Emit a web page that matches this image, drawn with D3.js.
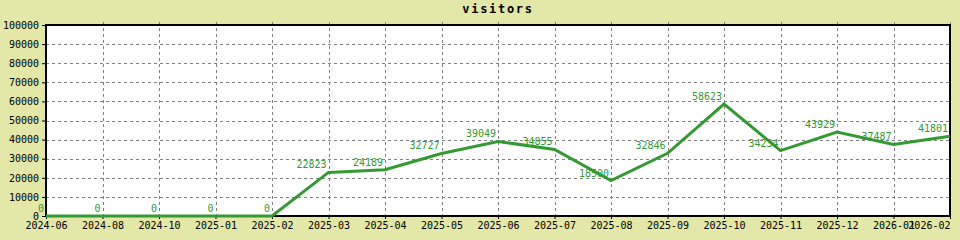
<!DOCTYPE html>
<meta charset="utf-8">
<style>
body { margin: 0; background: #e3e7a7; }
text { font-family: "DejaVu Sans Mono", monospace; }
.grid line { stroke: #808080; stroke-dasharray: 3,3; stroke-width: 1; }
.axis text { font-size: 10px; fill: #000; }
.axis path, .axis line { stroke: #000; }
.frame { fill: #fff; stroke: none; }
.border { fill: none; stroke: #000; stroke-width: 2; }
.series { fill: none; stroke: #339933; stroke-width: 3; stroke-linejoin: miter; }
.label { font-size: 10px; fill: #339933; text-anchor: end; }
.title { font-size: 12px; font-weight: bold; letter-spacing: 1.7px; text-anchor: middle; }
</style>
<body>
<script src="https://d3js.org/d3.v7.min.js"></script>
<script>

var months = ["2024-06", "2024-08", "2024-10", "2025-01", "2025-02", "2025-03", "2025-04",
              "2025-05", "2025-06", "2025-07", "2025-08", "2025-09", "2025-10", "2025-11",
              "2025-12", "2026-01", "2026-02"];
var visitors = [0, 0, 0, 0, 0, 22823, 24189, 32727, 39049, 34855, 18500, 32846, 58623,
                34234, 43929, 37487, 41801];
var yTicks = [0, 10000, 20000, 30000, 40000, 50000, 60000, 70000, 80000, 90000, 100000];

var width = 960,
    height = 240,
    margin = {top: 25, right: 10, bottom: 24, left: 46};

var x = d3.scalePoint()
    .domain(months)
    .range([margin.left, width - margin.right]);

var y = d3.scaleLinear()
    .domain([0, 100000])
    .range([height - margin.bottom, margin.top]);

var svg = d3.select("body").append("svg")
    .attr("width", width)
    .attr("height", height);

svg.append("rect")
    .attr("class", "frame")
    .attr("x", margin.left)
    .attr("y", margin.top)
    .attr("width", width - margin.left - margin.right)
    .attr("height", height - margin.top - margin.bottom);

// grid
var grid = svg.append("g").attr("class", "grid");
grid.selectAll(".h")
    .data(yTicks.slice(1, -1))
  .enter().append("line")
    .attr("x1", margin.left)
    .attr("x2", width - margin.right)
    .attr("y1", function(d) { return Math.round(y(d)) + 0.5; })
    .attr("y2", function(d) { return Math.round(y(d)) + 0.5; });
grid.selectAll(".v")
    .data(months.slice(1))
  .enter().append("line")
    .attr("x1", function(d) { return Math.round(x(d)) + 0.5; })
    .attr("x2", function(d) { return Math.round(x(d)) + 0.5; })
    .attr("y1", margin.top - 3)
    .attr("y2", height - margin.bottom + 3);

svg.append("g")
    .attr("class", "axis")
    .attr("transform", "translate(" + margin.left + ",0)")
    .call(d3.axisLeft(y).tickValues(yTicks).tickFormat(d3.format("d")).tickSize(4).tickPadding(3))
    .call(function(g) { g.select(".domain").remove(); });

svg.append("g")
    .attr("class", "axis")
    .attr("transform", "translate(0," + (height - margin.bottom) + ")")
    .call(d3.axisBottom(x).tickSize(3).tickPadding(3))
    .call(function(g) { g.select(".domain").remove(); })
    .call(function(g) {
      // last label is pulled in so it stays inside the picture
      g.selectAll(".tick:last-of-type text").attr("text-anchor", "end").attr("dx", 0);
    });

svg.append("rect")
    .attr("class", "border")
    .attr("x", margin.left)
    .attr("y", margin.top)
    .attr("width", width - margin.left - margin.right)
    .attr("height", height - margin.top - margin.bottom);

var line = d3.line()
    .x(function(d, i) { return x(months[i]); })
    .y(function(d) { return y(d); });

svg.append("path")
    .datum(visitors)
    .attr("class", "series")
    .attr("d", line);

svg.selectAll(".label")
    .data(visitors)
  .enter().append("text")
    .attr("class", "label")
    .attr("x", function(d, i) { return x(months[i]) - 2; })
    .attr("y", function(d) { return y(d) - 4; })
    .text(function(d) { return d; });

svg.append("text")
    .attr("class", "title")
    .attr("x", (margin.left + width - margin.right) / 2)
    .attr("y", 13)
    .text("visitors");

</script>
